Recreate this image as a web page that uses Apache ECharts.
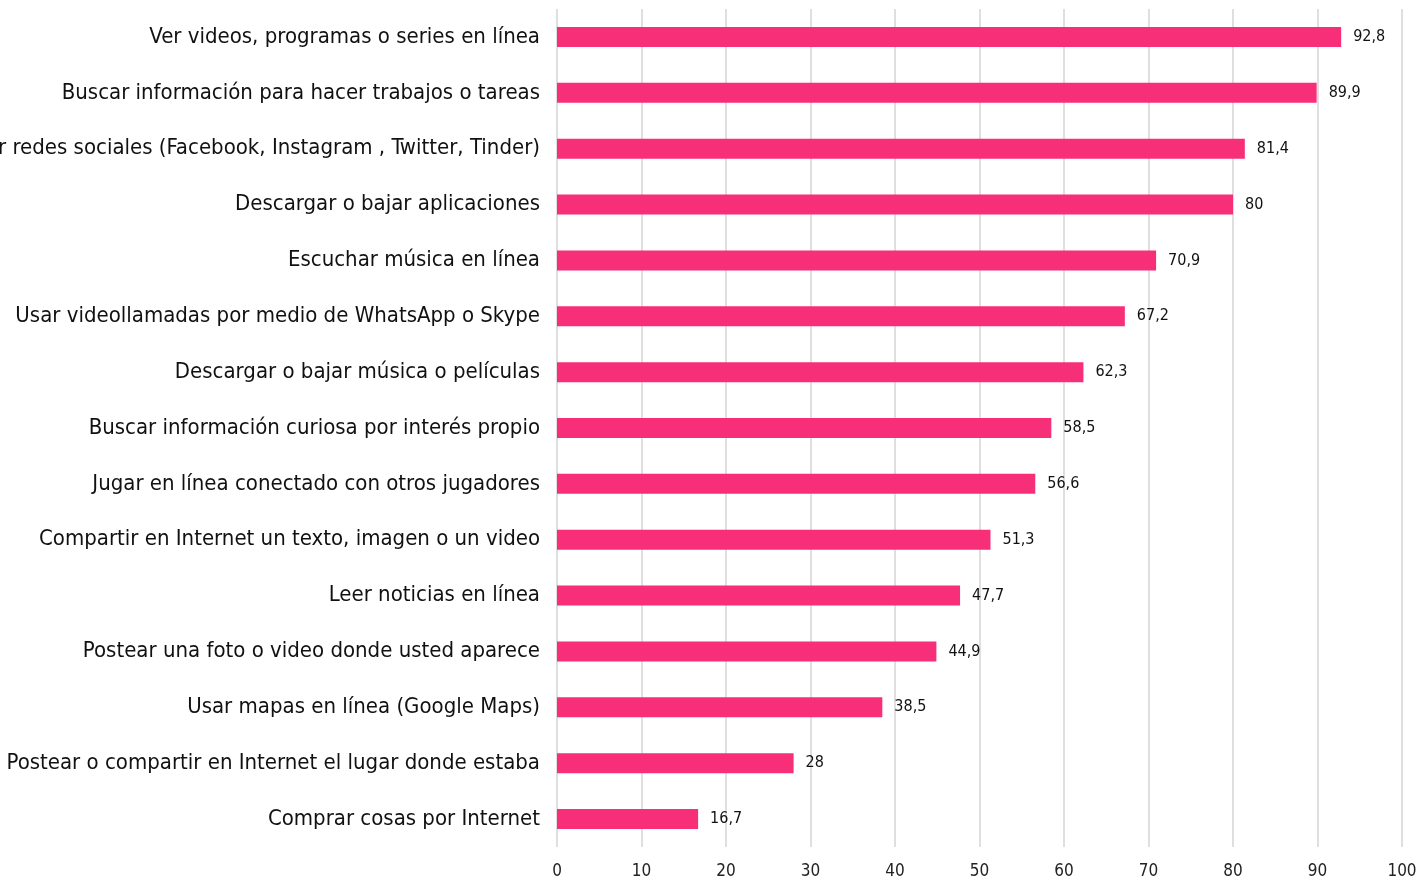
<!DOCTYPE html>
<html>
<head>
<meta charset="utf-8">
<script src="https://cdn.jsdelivr.net/npm/echarts@6/dist/echarts.min.js"></script>
<style>
  html, body { margin: 0; padding: 0; background: #fff; }
  #chart { width: 1424px; height: 881px; }
</style>
</head>
<body>
<div id="chart"></div>
<script>
var categories = [
  'Ver videos, programas o series en línea',
  'Buscar información para hacer trabajos o tareas',
  'Usar redes sociales (Facebook, Instagram , Twitter, Tinder)',
  'Descargar o bajar aplicaciones',
  'Escuchar música en línea',
  'Usar videollamadas por medio de WhatsApp o Skype',
  'Descargar o bajar música o películas',
  'Buscar información curiosa por interés propio',
  'Jugar en línea conectado con otros jugadores',
  'Compartir en Internet un texto, imagen o un video',
  'Leer noticias en línea',
  'Postear una foto o video donde usted aparece',
  'Usar mapas en línea (Google Maps)',
  'Postear o compartir en Internet el lugar donde estaba',
  'Comprar cosas por Internet'
];
var values = [92.8, 89.9, 81.4, 80, 70.9, 67.2, 62.3, 58.5, 56.6, 51.3, 47.7, 44.9, 38.5, 28, 16.7];

var fontName = '"Liberation Sans Narrow", "DejaVu Sans Condensed", sans-serif';

var myChart = echarts.init(document.getElementById('chart'));

var option = {
  animation: false,
  grid: {
    left: 557,
    right: 22,
    top: 9,
    bottom: 34,
    containLabel: false,
    outerBoundsMode: 'none'
  },
  xAxis: {
    type: 'value',
    min: 0,
    max: 100,
    interval: 10,
    axisLine: { show: false },
    axisTick: { show: false },
    axisLabel: {
      color: '#222',
      fontFamily: fontName,
      fontSize: 17,
      margin: 16
    },
    splitLine: { lineStyle: { color: '#d4d4d4', width: 1.5 } }
  },
  yAxis: {
    type: 'category',
    inverse: true,
    data: categories,
    axisLine: { show: false },
    axisTick: { show: false },
    axisLabel: {
      color: '#111',
      fontFamily: fontName,
      fontSize: 22,
      margin: 17
    }
  },
  series: [
    {
      type: 'bar',
      data: values,
      barWidth: 20,
      itemStyle: { color: '#f72f78' },
      label: {
        show: true,
        position: 'right',
        distance: 12,
        color: '#111',
        fontFamily: fontName,
        fontSize: 16,
        formatter: function (p) {
          return String(p.value).replace('.', ',');
        }
      }
    }
  ]
};

myChart.setOption(option);
</script>
</body>
</html>
